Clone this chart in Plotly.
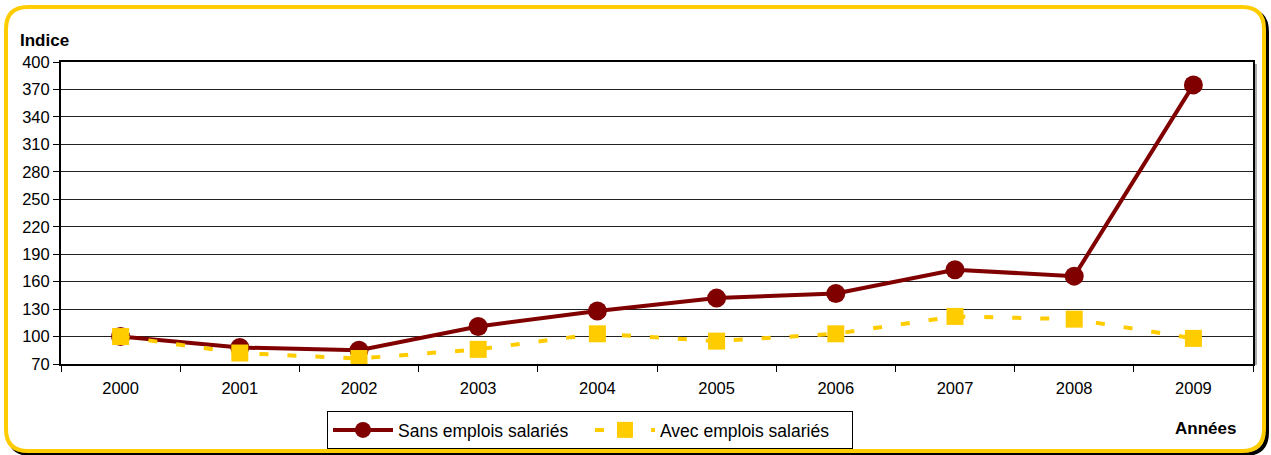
import plotly.graph_objects as go

# ---- data ---------------------------------------------------------------------
years = ["2000", "2001", "2002", "2003", "2004", "2005", "2006", "2007", "2008", "2009"]
sans_emplois = [100, 88, 85, 111, 128, 142, 147, 173, 166, 375]
avec_emplois = [100, 82, 76, 86, 103, 95, 103, 122, 119, 98]
y_ticks = [70, 100, 130, 160, 190, 220, 250, 280, 310, 340, 370, 400]

DARK_RED = "#800000"
YELLOW = "#FFCC00"
FONT = "Liberation Sans, Arial, sans-serif"

# ---- figure geometry (pixels) -------------------------------------------------
W, H = 1271, 455
L, R, T, B = 61, 18, 62, 91
PW, PH = W - L - R, H - T - B


def px_x(x):
    return (x - L) / PW


def px_y(y):
    return (H - B - y) / PH


def rounded_rect(x0, y0, x1, y1, r):
    """SVG path (paper coords) for a rounded rectangle given in pixels."""
    pts = [
        ("M", [(x0 + r, y0)]),
        ("L", [(x1 - r, y0)]),
        ("Q", [(x1, y0), (x1, y0 + r)]),
        ("L", [(x1, y1 - r)]),
        ("Q", [(x1, y1), (x1 - r, y1)]),
        ("L", [(x0 + r, y1)]),
        ("Q", [(x0, y1), (x0, y1 - r)]),
        ("L", [(x0, y0 + r)]),
        ("Q", [(x0, y0), (x0 + r, y0)]),
    ]
    out = []
    for cmd, coords in pts:
        out.append(cmd + " ".join(f"{px_x(a):.5f},{px_y(b):.5f}" for a, b in coords))
    return " ".join(out) + " Z"


fig = go.Figure()
fig.add_trace(go.Scatter(
    x=years, y=sans_emplois, name="Sans emplois salariés",
    mode="lines+markers",
    line=dict(color=DARK_RED, width=4),
    marker=dict(symbol="circle", size=19, color=DARK_RED),
))
fig.add_trace(go.Scatter(
    x=years, y=avec_emplois, name="Avec emplois salariés",
    mode="lines+markers",
    line=dict(color=YELLOW, width=4, dash="9px,19px"),
    marker=dict(symbol="square", size=17, color=YELLOW),
))

# frame: black shadow + yellow rounded border
fig.add_shape(type="path", xref="paper", yref="paper", path=rounded_rect(9, 10, 1267, 454, 22),
              line=dict(color="black", width=4), layer="below")
fig.add_shape(type="path", xref="paper", yref="paper", path=rounded_rect(6, 7, 1264, 451, 22),
              line=dict(color=YELLOW, width=4), fillcolor="white", layer="below")
# light shadow on right of plot box
fig.add_shape(type="line", xref="paper", yref="paper", x0=px_x(1256), x1=px_x(1256), y0=px_y(365), y1=px_y(64),
              line=dict(color="#aaa", width=2))

fig.add_annotation(x=px_x(18), y=px_y(40), xref="paper", yref="paper", text="<b>Indice</b>",
                   showarrow=False, xanchor="left", yanchor="middle", font=dict(size=17, color="black"))
fig.add_annotation(x=px_x(1205), y=px_y(428), xref="paper", yref="paper", text="<b>Années</b>",
                   showarrow=False, xanchor="center", yanchor="middle", font=dict(size=17, color="black"))

fig.update_layout(
    width=W, height=H,
    margin=dict(l=L, r=R, t=T, b=B, autoexpand=False),
    paper_bgcolor="white", plot_bgcolor="white",
    font=dict(family=FONT, size=16.5, color="black"),
    showlegend=True,
    legend=dict(
        orientation="h", x=px_x(327), y=px_y(411), xanchor="left", yanchor="top",
        bordercolor="black", borderwidth=1, bgcolor="white",
        font=dict(size=17.5), itemwidth=60, entrywidth=187,
    ),
    xaxis=dict(
        type="category", range=[-0.5, 9.5], tickson="boundaries",
        ticks="outside", ticklen=6, tickcolor="black",
        showline=True, linecolor="black", linewidth=2, mirror=True,
        showgrid=False, zeroline=False, ticklabelstandoff=8,
    ),
    yaxis=dict(
        range=[70, 400], tickvals=y_ticks,
        ticks="outside", ticklen=6, tickcolor="black",
        showline=True, linecolor="black", linewidth=2, mirror=True,
        showgrid=True, gridcolor="#222", gridwidth=1, zeroline=False,
    ),
)

fig.write_html("out.html", config={"displayModeBar": False},
               post_script="document.body.style.margin='0';")
